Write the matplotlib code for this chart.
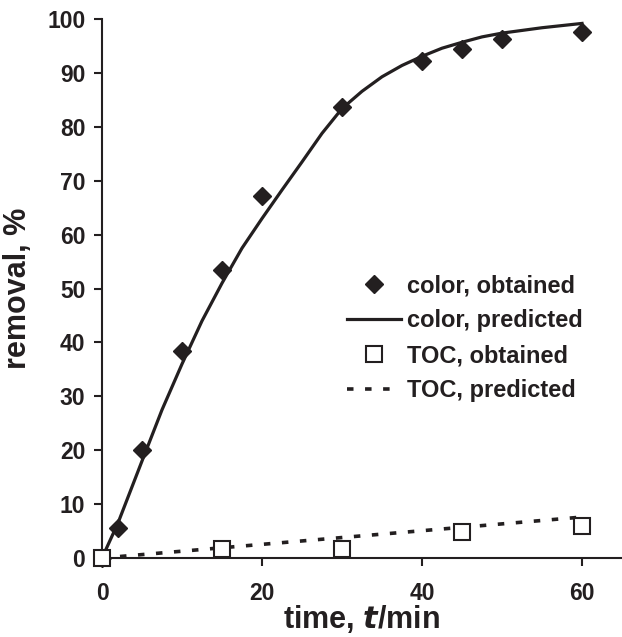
import matplotlib.pyplot as plt

plt.rcParams['font.family'] = ['Liberation Sans', 'DejaVu Sans']
plt.rcParams['font.weight'] = 'bold'

ink = '#231f20'

# measured points
t_obs = [0, 2, 5, 10, 15, 20, 30, 40, 45, 50, 60]
color_obs = [0, 5.5, 20, 38.5, 53.5, 67.2, 83.6, 92.2, 94.5, 96.3, 97.6]

# model curve
t_pred = [0, 2, 5, 7.5, 10, 12.5, 15, 17.5, 20, 22.5, 25, 27.5, 30, 32.5, 35, 37.5,
          40, 42.5, 45, 47.5, 50, 55, 60]
color_pred = [0, 6.5, 18.0, 27.5, 36.0, 44.0, 51.0, 57.5, 63.0, 68.3, 73.5, 78.8, 83.4,
              86.6, 89.3, 91.4, 93.1, 94.6, 95.7, 96.7, 97.4, 98.4, 99.2]

t_toc = [0, 15, 30, 45, 60]
toc_obs = [0, 1.6, 1.7, 4.8, 5.9]
t_toc_pred = [0, 15, 30, 45, 60]
toc_pred = [0, 1.9, 3.8, 5.7, 7.6]

fig = plt.figure(figsize=(6.22, 6.37), dpi=100)
ax = fig.add_axes([0.164, 0.124, 0.836, 0.846])

ax.plot(t_pred, color_pred, '-', color=ink, lw=2.3, label='color, predicted', zorder=2)
ax.plot(t_obs, color_obs, 'D', color=ink, ms=9.5, ls='none', label='color, obtained', zorder=3)
ax.plot(t_toc_pred, toc_pred, color=ink, lw=2.6, ls=(0, (1.8, 3.2)), label='TOC, predicted', zorder=2)
ax.plot(t_toc, toc_obs, 's', mfc='white', mec=ink, mew=1.5, ms=11, ls='none', label='TOC, obtained', zorder=3)

ax.set_xlim(0, 65)
ax.set_ylim(0, 100)
ax.set_xticks([0, 20, 40, 60])
ax.set_yticks(range(0, 101, 10))
for s in ['top', 'right']:
    ax.spines[s].set_visible(False)
for s in ['left', 'bottom']:
    ax.spines[s].set_color(ink)
    ax.spines[s].set_linewidth(1.5)
ax.tick_params(direction='out', length=6, width=1.5, colors=ink, labelsize=16.5, pad=6)
for lab in ax.get_xticklabels() + ax.get_yticklabels():
    lab.set_fontweight('bold')
ax.xaxis.set_tick_params(pad=11)
for ln in ax.lines:
    ln.set_clip_on(False)

ax.set_xlabel('time, $\\mathbfit{t}$/min', fontsize=22, fontweight='bold', color=ink, labelpad=-1)
ax.set_ylabel('removal, %', fontsize=22, fontweight='bold', color=ink, labelpad=10)

h, l = ax.get_legend_handles_labels()
order = [1, 0, 3, 2]
leg = ax.legend([h[i] for i in order], [l[i] for i in order], loc='center left',
                bbox_to_anchor=(0.43, 0.408), frameon=False, fontsize=17,
                handlelength=2.3, handletextpad=0.25, labelspacing=0.5)
for txt in leg.get_texts():
    txt.set_color(ink)
    txt.set_fontweight('bold')

fig.savefig('out.png', dpi=100)
